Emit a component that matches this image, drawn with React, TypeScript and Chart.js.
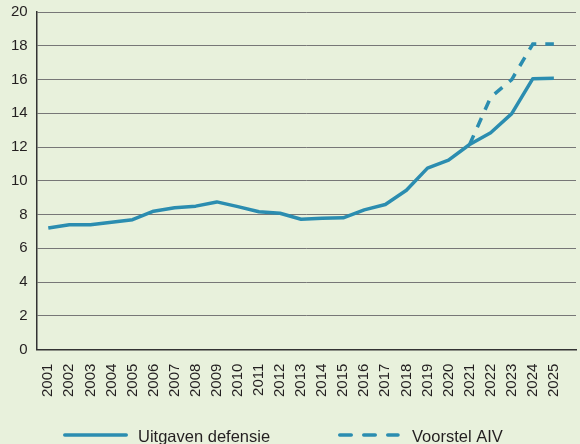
import React, { useEffect, useRef } from "react";
import { Chart, registerables } from "chart.js";

Chart.register(...registerables);

// ---- data ----
const years = [
  2001, 2002, 2003, 2004, 2005, 2006, 2007, 2008, 2009, 2010, 2011, 2012, 2013,
  2014, 2015, 2016, 2017, 2018, 2019, 2020, 2021, 2022, 2023, 2024, 2025,
];
const uitgavenDefensie = [
  7.2, 7.4, 7.4, 7.55, 7.7, 8.2, 8.4, 8.5, 8.75, 8.47, 8.17, 8.08, 7.72,
  7.78, 7.81, 8.28, 8.6, 9.44, 10.75, 11.22, 12.15, 12.85, 13.98, 16.05, 16.07,
];
const voorstelAIV = [
  null, null, null, null, null, null, null, null, null, null, null, null, null,
  null, null, null, null, null, null, null, 12.15, 14.95, 16.0, 18.1, 18.1,
];
const yTicks = [0, 2, 4, 6, 8, 10, 12, 14, 16, 18, 20];
const seriesLabels = ["Uitgaven defensie", "Voorstel AIV"];

// ---- style ----
const BG = "#e8f1dc";
const BLUE = "#2b8db0";
const TEXT = "#231f20";
const FONT = "'Liberation Sans', Arial, Helvetica, sans-serif";

const customLegend = {
  id: "customLegend",
  afterDraw(chart: any) {
    const ctx = chart.ctx as CanvasRenderingContext2D;
    const ds = chart.data.datasets;
    const y = 435;
    const items = [
      { x0: 64.75, x1: 126.25, tx: 138, dash: [] as number[] },
      { x0: 339.75, x1: 398, tx: 412, dash: [11.5, 12.5] },
    ];
    ctx.save();
    items.forEach((it, i) => {
      const d = ds[i];
      ctx.beginPath();
      ctx.strokeStyle = d.borderColor;
      ctx.lineWidth = 3.5;
      ctx.lineCap = "round";
      ctx.setLineDash(it.dash);
      ctx.moveTo(it.x0, y);
      ctx.lineTo(it.x1, y);
      ctx.stroke();
      ctx.setLineDash([]);
      ctx.fillStyle = TEXT;
      ctx.font = `16.5px ${FONT}`;
      ctx.textBaseline = "alphabetic";
      ctx.textAlign = "left";
      ctx.fillText(d.label, it.tx, 442);
    });
    ctx.restore();
  },
};

export default function App() {
  const ref = useRef<HTMLCanvasElement | null>(null);

  useEffect(() => {
    document.body.style.margin = "0";
    document.body.style.background = BG;
    const canvas = ref.current;
    if (!canvas) return;
    const chart = new Chart(canvas, {
      type: "line",
      data: {
        datasets: [
          {
            label: seriesLabels[0],
            data: years.map((x, i) => ({ x, y: uitgavenDefensie[i] })),
            borderColor: BLUE,
            backgroundColor: BLUE,
            borderWidth: 3.5,
            pointRadius: 0,
            tension: 0,
            borderJoinStyle: "round",
            borderCapStyle: "butt",
          },
          {
            label: seriesLabels[1],
            data: years.map((x, i) => ({ x, y: voorstelAIV[i] })),
            borderColor: BLUE,
            backgroundColor: BLUE,
            borderWidth: 3.5,
            borderDash: [10, 9],
            pointRadius: 0,
            tension: 0,
            spanGaps: false,
          },
        ],
      },
      options: {
        responsive: false,
        animation: false,
        layout: { padding: { left: 11, right: 4, top: 12, bottom: 47 } },
        plugins: {
          legend: { display: false },
          tooltip: { enabled: false },
        },
        scales: {
          x: {
            type: "linear",
            min: 2000.45,
            max: 2026.05,
            afterBuildTicks: (scale: any) => {
              scale.ticks = years.map((v) => ({ value: v }));
            },
            grid: { display: false, drawTicks: true, tickLength: 14 },
            border: { display: true, color: "#333", width: 1.5 },
            ticks: {
              autoSkip: false,
              minRotation: 90,
              maxRotation: 90,
              padding: 0,
              color: TEXT,
              font: { family: FONT, size: 15 },
              callback: (v: any) => String(v),
            },
          },
          y: {
            min: 0,
            max: 20,
            afterBuildTicks: (scale: any) => {
              scale.ticks = yTicks.map((v) => ({ value: v }));
            },
            grid: {
              color: "#777",
              lineWidth: 1,
              drawTicks: true,
              tickLength: 9,
              tickColor: "rgba(0,0,0,0)",
            },
            border: { display: true, color: "#333", width: 1.5 },
            ticks: {
              padding: 0,
              color: TEXT,
              font: { family: FONT, size: 15 },
              callback: (v: any) => String(v),
            },
          },
        },
      },
      plugins: [customLegend],
    });
    return () => chart.destroy();
  }, []);

  return (
    <div style={{ width: 580, height: 444, background: BG }}>
      <canvas ref={ref} width={580} height={444} style={{ display: "block" }} />
    </div>
  );
}
